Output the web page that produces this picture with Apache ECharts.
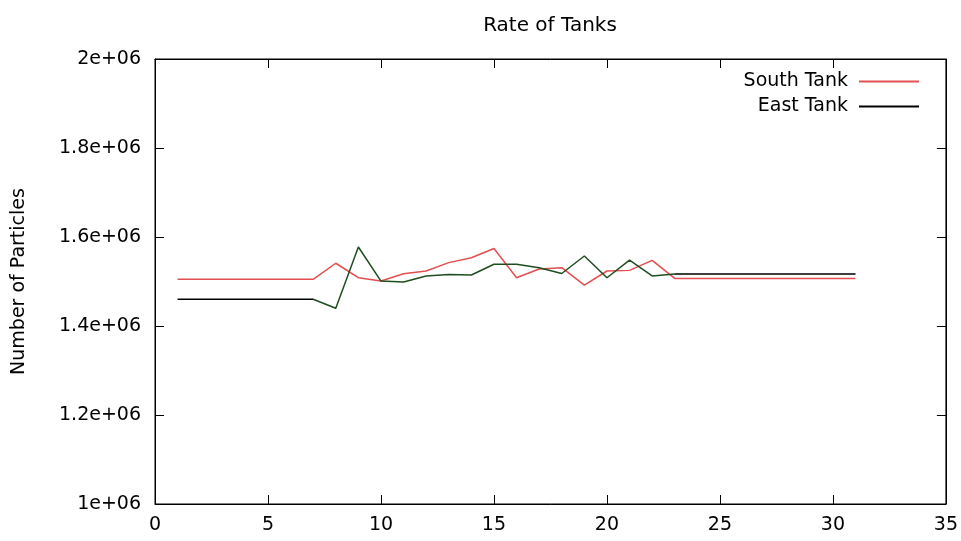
<!DOCTYPE html>
<html><head><meta charset="utf-8">
<script src="https://cdn.jsdelivr.net/npm/echarts@6/dist/echarts.min.js"></script>
<style>html,body{margin:0;padding:0;background:#fff}#c{width:961px;height:541px}</style>
</head><body><div id="c"></div>
<script>
var xValues = [1,2,3,4,5,6,7,8,9,10,11,12,13,14,15,16,17,18,19,20,21,22,23,24,25,26,27,28,29,30,31];
var southTank = [1505000,1505000,1505000,1505000,1505000,1505000,1505000,1541000,1508500,1501000,1517500,1523600,1542400,1553500,1574000,1508500,1528000,1531000,1492000,1523600,1525000,1547600,1507000,1507000,1507000,1507000,1507000,1507000,1507000,1507000,1507000];
var eastTank = [1460000,1460000,1460000,1460000,1460000,1460000,1460000,1439800,1577500,1501000,1498900,1512400,1516000,1514600,1538700,1538700,1531000,1518000,1557300,1508500,1548000,1512400,1517000,1517000,1517000,1517000,1517000,1517000,1517000,1517000,1517000];
var seriesNames = ['South Tank','East Tank'];
var titleText = 'Rate of Tanks';
var yAxisName = 'Number of Particles';

function pairs(v){return xValues.map(function(x,i){return [x,v[i]];});}
var font = 'DejaVu Sans';
var RED = '#e44e50', GREEN = '#1e4d1e';
function yfmt(v){var m=v/1e6; return (Math.abs(m-Math.round(m))<1e-9? String(Math.round(m)) : m.toFixed(1))+'e+06';}
var tick = {inside:true,length:9,lineStyle:{color:'#000'}};
var chart = echarts.init(document.getElementById('c'));
chart.setOption({
  animation:false,
  backgroundColor:'#fff',
  title:{text:titleText,left:545,top:11,textAlign:'center',textStyle:{fontFamily:font,fontSize:20,fontWeight:'normal',color:'#000'}},
  grid:{left:155,right:15,top:59,bottom:37,show:true,borderColor:'#000',borderWidth:1},
  legend:{orient:'vertical',right:36,top:67,align:'right',itemWidth:60,itemHeight:14,itemGap:6,
    itemStyle:{opacity:0},
    textStyle:{fontFamily:font,fontSize:19,color:'#000',padding:[0,6,0,0]},
    data:[seriesNames[0],seriesNames[1]]},
  xAxis:[{type:'value',min:0,max:35,interval:5,position:'bottom',
      axisLine:{show:true,onZero:false,lineStyle:{color:'#000'}},axisTick:tick,
      axisLabel:{margin:12,fontFamily:font,fontSize:19,color:'#000'},splitLine:{show:false}},
    {type:'value',min:0,max:35,interval:5,position:'top',
      axisLine:{show:true,onZero:false,lineStyle:{color:'#000'}},axisTick:tick,
      axisLabel:{show:false},splitLine:{show:false}}],
  yAxis:[{type:'value',min:1000000,max:2000000,interval:200000,position:'left',
      name:yAxisName,nameLocation:'middle',nameGap:126,nameTextStyle:{fontFamily:font,fontSize:19,color:'#000'},
      axisLine:{show:true,onZero:false,lineStyle:{color:'#000'}},axisTick:tick,
      axisLabel:{margin:14,fontFamily:font,fontSize:19,color:'#000',formatter:yfmt},splitLine:{show:false}},
    {type:'value',min:1000000,max:2000000,interval:200000,position:'right',
      axisLine:{show:true,onZero:false,lineStyle:{color:'#000'}},axisTick:tick,
      axisLabel:{show:false},splitLine:{show:false}}],
  visualMap:{show:false,type:'piecewise',seriesIndex:1,dimension:0,
    pieces:[{lt:7,color:'#000'},{gte:7,lte:23,color:GREEN},{gt:23,color:'#000'}]},
  series:[
    {name:seriesNames[0],type:'line',data:pairs(southTank),symbol:'none',lineStyle:{color:RED,width:1.5},itemStyle:{color:RED},z:2},
    {name:seriesNames[1],type:'line',data:pairs(eastTank),symbol:'none',lineStyle:{width:1.5},itemStyle:{color:'#000'},z:3}
  ]
});
</script></body></html>
